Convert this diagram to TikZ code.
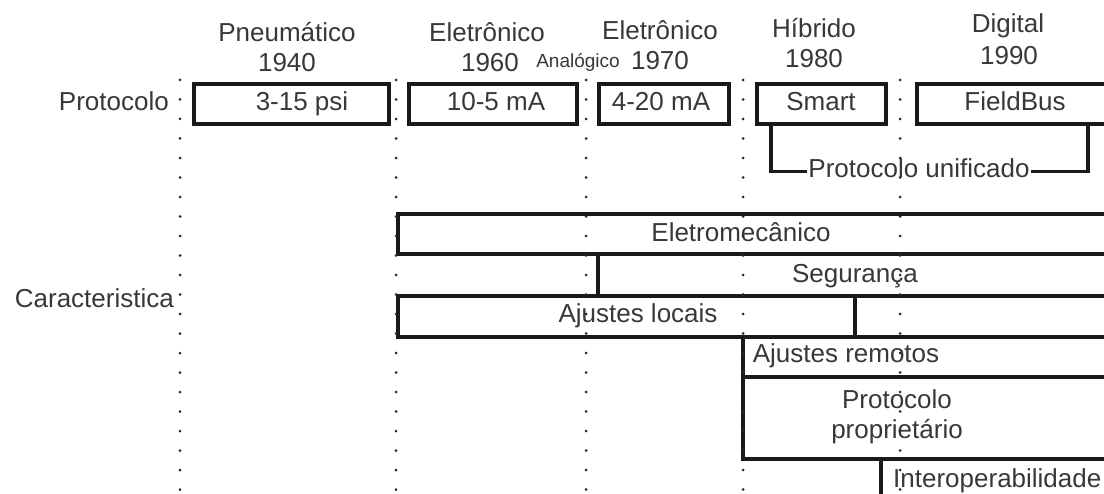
\documentclass[tikz,border=0pt]{standalone}
\usepackage{fontspec}
\setmainfont{Liberation Sans}
\definecolor{txtc}{HTML}{383838}
\definecolor{linec}{HTML}{1A1A1A}
\definecolor{dotc}{HTML}{282828}
\tikzset{
  lbl/.style={inner sep=0pt, text=txtc, font=\fontsize{26bp}{30bp}\selectfont, anchor=base},
  sml/.style={lbl, font=\fontsize{19bp}{22bp}\selectfont},
  box/.style={draw=linec, line width=3.6bp, rectangle, inner sep=0pt, anchor=north west},
  conn/.style={draw=linec, line width=3.6bp},
  dots/.style={draw=dotc, line width=3bp, line cap=round, dash pattern=on 0bp off 19.5bp},
}
\begin{document}
\begin{tikzpicture}[x=1bp,y=-1bp]
\fill[white] (0,0) rectangle (1104,494);
\useasboundingbox (0,0) rectangle (1104,494);
\clip (0,0) rectangle (1104,494);

% headers
\node[lbl] (hpn) at (287,42) {Pneumático};
\node[lbl] (y40) at (287,72) {1940};
\node[lbl] (hel1) at (487,42) {Eletrônico};
\node[lbl] (y60) at (490,72) {1960};
\node[sml] (han) at (578,68) {Analógico};
\node[lbl] (hel2) at (660,40) {Eletrônico};
\node[lbl] (y70) at (660,70) {1970};
\node[lbl] (hhi) at (814,38) {Híbrido};
\node[lbl] (y80) at (814,68) {1980};
\node[lbl] (hdi) at (1008,33) {Digital};
\node[lbl] (y90) at (1009,65) {1990};

% row labels
\node[lbl, anchor=base east] (rprot) at (169,111) {Protocolo};
\node[lbl, anchor=base east] (rcar) at (174,308) {Caracteristica};

% protocol boxes
\node[box, minimum width=195bp, minimum height=40bp] (psi) at (192,82) {};
\node[box, minimum width=168bp, minimum height=40bp] (ma10) at (407,82) {};
\node[box, minimum width=130bp, minimum height=40bp] (ma420) at (597,82) {};
\node[box, minimum width=129bp, minimum height=40bp] (smart) at (755,82) {};
\node[box, minimum width=210bp, minimum height=40bp] (fb) at (915,82) {};
\node[lbl] (tpsi) at (302,111) {3-15 psi};
\node[lbl] (tma10) at (496,111) {10-5 mA};
\node[lbl] (tma420) at (661,111) {4-20 mA};
\node[lbl] (tsmart) at (821,111) {Smart};
\node[lbl] (tfb) at (1015,111) {FieldBus};

% unified protocol
\node[lbl, inner sep=1.5bp] (pu) at (919,178) {Protocolo unificado};
\draw[conn] ([xshift=16bp]smart.south west) |- ([yshift=6.5bp]pu.base west);
\draw[conn] ([xshift=173bp]fb.south west) |- ([yshift=6.5bp]pu.base east);

% characteristic bars
\node[box, minimum width=730bp, minimum height=40bp] (eletro) at (396,212) {};
\node[box, minimum width=530bp, minimum height=42bp] (seg) at (596,252) {};
\node[box, minimum width=457bp, minimum height=41bp] (ajl) at (396,294) {};
\node[box, minimum width=270bp, minimum height=41bp] (ajlb) at (853,294) {};
\node[box, minimum width=385bp, minimum height=40bp] (ajr) at (741,335) {};
\node[box, minimum width=385bp, minimum height=82bp] (pp) at (741,375) {};
\node[box, minimum width=250bp, minimum height=60bp] (inter) at (879,457) {};

\node[lbl] (teletro) at (741,242) {Eletromecânico};
\node[lbl] (tseg) at (855,283) {Segurança};
\node[lbl] (tajl) at (638,323) {Ajustes locais};
\node[lbl] (tajr) at (846,363) {Ajustes remotos};
\node[lbl] (tpp1) at (897,408) {Protocolo};
\node[lbl] (tpp2) at (897,438) {proprietário};
\node[lbl, anchor=base west] (tinter) at (893,487) {Interoperabilidade};

% dotted era separators
\coordinate (d1a) at (180,80); \coordinate (d1b) at (180,500);
\coordinate (d2a) at (396,80); \coordinate (d2b) at (396,500);
\coordinate (d3a) at (586,80); \coordinate (d3b) at (586,500);
\coordinate (d4a) at (743,80); \coordinate (d4b) at (743,500);
\coordinate (d5a) at (900,80); \coordinate (d5b) at (900,500);
\draw[dots] (d1a) -- (d1b);
\draw[dots] (d2a) -- (d2b);
\draw[dots] (d3a) -- (d3b);
\draw[dots] (d4a) -- (d4b);
\draw[dots] (d5a) -- (d5b);
\end{tikzpicture}
\end{document}
